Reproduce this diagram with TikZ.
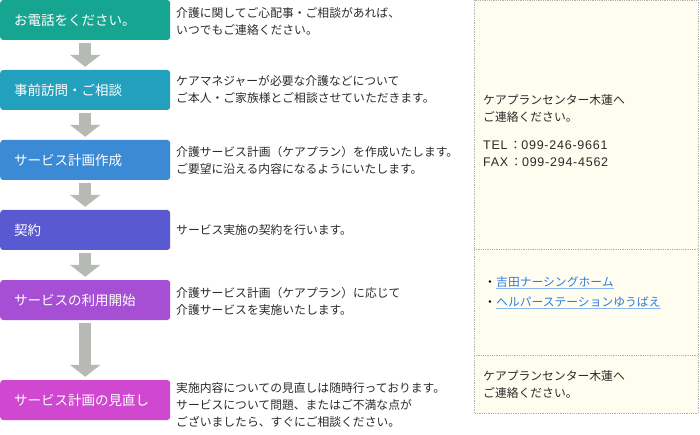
\documentclass[tikz,border=0pt]{standalone}
\usepackage{fontspec}
\setmainfont{Noto Sans CJK JP}
\newfontfamily\latinfont[LetterSpace=6]{Liberation Sans}
\usetikzlibrary{arrows.meta}

\definecolor{callcol}{HTML}{16A591}
\definecolor{visitcol}{HTML}{22A0BE}
\definecolor{plancol}{HTML}{3A8AD6}
\definecolor{contractcol}{HTML}{5959D1}
\definecolor{usecol}{HTML}{A64FD5}
\definecolor{reviewcol}{HTML}{CF48CF}
\definecolor{arrowgray}{HTML}{B7B9B5}
\definecolor{panelbg}{HTML}{FEFDF0}
\definecolor{linkblue}{HTML}{2F7BE0}
\definecolor{linkline}{HTML}{8AB8F0}
\definecolor{bodytext}{HTML}{2A2A2A}

\begin{document}
\begin{tikzpicture}[x=1pt, y=-1pt]

  \tikzstyle{stepbox} = [rounded corners=3pt, anchor=west, minimum width=170pt,
    minimum height=40pt, text width=142pt, inner xsep=14pt, align=left,
    text=white, font=\fontsize{13.5}{16}\selectfont]
  \tikzstyle{note} = [anchor=west, inner sep=0pt, align=left, text=bodytext,
    font=\fontsize{11.8}{17}\selectfont]
  \tikzstyle{flowarrow} = [arrowgray, line width=12pt, shorten <=3pt, shorten >=3pt,
    -{Triangle[width=30pt, length=12pt]}]
  \tikzstyle{divider} = [gray!60, densely dotted, line width=0.8pt]

  \useasboundingbox (0,0) rectangle (700,435);

  % right hand panel
  \fill[panelbg] (474,0) rectangle (698,413);
  \draw[divider] (474,0) rectangle (698,413);
  \draw[divider] (474,249) -- (698,249);
  \draw[divider] (474,355) -- (698,355);

  % steps
  \node[stepbox, fill=callcol] (call) at (0,20) {お電話をください。};
  \node[stepbox, fill=visitcol] (visit) at (0,90) {事前訪問・ご相談};
  \node[stepbox, fill=plancol] (plan) at (0,160) {サービス計画作成};
  \node[stepbox, fill=contractcol] (contract) at (0,230) {契約};
  \node[stepbox, fill=usecol] (use) at (0,300) {サービスの利用開始};
  \node[stepbox, fill=reviewcol] (review) at (0,400) {サービス計画の見直し};

  \draw[flowarrow] (call.south) -- (visit.north);
  \draw[flowarrow] (visit.south) -- (plan.north);
  \draw[flowarrow] (plan.south) -- (contract.north);
  \draw[flowarrow] (contract.south) -- (use.north);
  \draw[flowarrow] (use.south) -- (review.north);

  % descriptions
  \node[note] (callnote) at (176,21) {介護に関してご心配事・ご相談があれば、\\いつでもご連絡ください。};
  \node[note] (visitnote) at (176,90) {ケアマネジャーが必要な介護などについて\\ご本人・ご家族様とご相談させていただきます。};
  \node[note] (plannote) at (176,160) {介護サービス計画（ケアプラン）を作成いたします。\\ご要望に沿える内容になるようにいたします。};
  \node[note] (contractnote) at (176,230) {サービス実施の契約を行います。};
  \node[note] (usenote) at (176,301) {介護サービス計画（ケアプラン）に応じて\\介護サービスを実施いたします。};
  \node[note] (reviewnote) at (176,405) {実施内容についての見直しは随時行っております。\\サービスについて問題、またはご不満な点が\\ございましたら、すぐにご相談ください。};

  % panel texts
  \node[note] (center) at (483,109) {ケアプランセンター木蓮へ\\ご連絡ください。};
  \node[note] (phone) at (483,153.5) {{\latinfont\fontsize{12.5}{17}\selectfont TEL}\,：{\latinfont\fontsize{12.5}{17}\selectfont 099-246-9661}\\
    {\latinfont\fontsize{12.5}{17}\selectfont FAX}\,：{\latinfont\fontsize{12.5}{17}\selectfont 099-294-4562}};

  \node[note, anchor=base east, text=black] (dotone) at (496,286) {・};
  \node[note, anchor=base west, text=linkblue] (linkone) at (496,286) {吉田ナーシングホーム};
  \node[note, anchor=base east, text=black] (dottwo) at (496,306) {・};
  \node[note, anchor=base west, text=linkblue] (linktwo) at (496,306) {ヘルパーステーションゆうばえ};
  \draw[linkline, line width=0.8pt] ([yshift=-2.5pt]linkone.base west) -- ([yshift=-2.5pt]linkone.base east);
  \draw[linkline, line width=0.8pt] ([yshift=-2.5pt]linktwo.base west) -- ([yshift=-2.5pt]linktwo.base east);

  \node[note] (centertwo) at (483,385) {ケアプランセンター木蓮へ\\ご連絡ください。};

\end{tikzpicture}
\end{document}
